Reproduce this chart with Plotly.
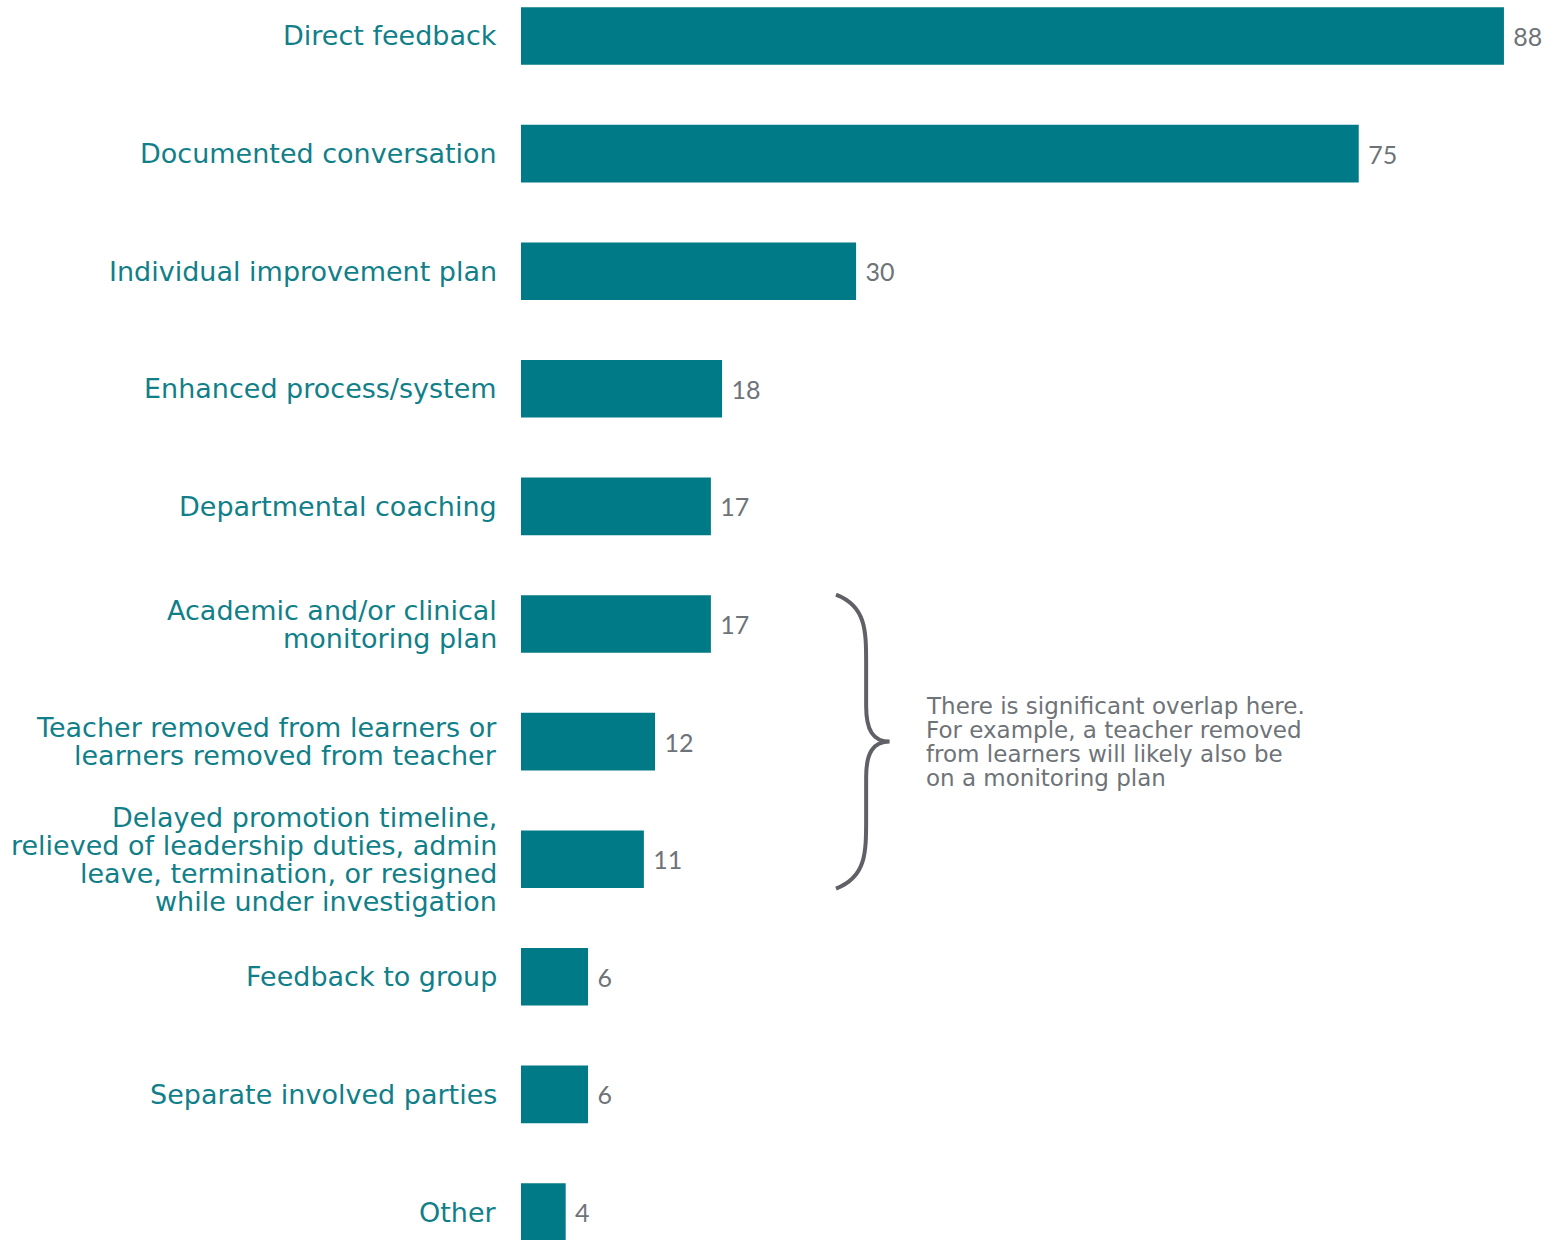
import plotly.graph_objects as go

# Actions taken, counts per action (label lines split with "\n")
categories = [
    "Direct feedback",
    "Documented conversation",
    "Individual improvement plan",
    "Enhanced process/system",
    "Departmental coaching",
    "Academic and/or clinical\nmonitoring plan",
    "Teacher removed from learners or\nlearners removed from teacher",
    "Delayed promotion timeline,\nrelieved of leadership duties, admin\nleave, termination, or resigned\nwhile under investigation",
    "Feedback to group",
    "Separate involved parties",
    "Other",
]
counts = [88, 75, 30, 18, 17, 17, 12, 11, 6, 6, 4]

note_lines = [
    "There is significant overlap here.",
    "For example, a teacher removed",
    "from learners will likely also be",
    "on a monitoring plan",
]

TEAL = "#007A87"
LABEL_TEAL = "#117F89"
GRAY = "#6E7378"
LABEL_FONT = "DejaVu Sans"

positions = list(range(len(categories)))

fig = go.Figure(
    go.Bar(
        x=counts,
        y=positions,
        orientation="h",
        marker=dict(color=TEAL, line=dict(width=0)),
        width=0.49,
        text=[f"{v}" for v in counts],
        texttemplate=" %{text}",
        textposition="outside",
        textfont=dict(family="Lato", size=25, color=GRAY),
        cliponaxis=False,
    )
)

# Category labels, one annotation per line for tight line spacing
LABEL_LH = 28
for pos, label in zip(positions, categories):
    lines = label.split("\n")
    n = len(lines)
    for i, line in enumerate(lines):
        fig.add_annotation(
            x=0, y=pos, xref="x", yref="y",
            text=line, showarrow=False,
            xanchor="right", yanchor="middle", align="right",
            xshift=-22, yshift=-(i - (n - 1) / 2) * LABEL_LH,
            font=dict(family=LABEL_FONT, size=27, color=LABEL_TEAL),
        )

# Curly brace grouping the three overlapping categories (data coordinates)
x0, xm, xt = 28.2, 30.9, 33.0
brace = (
    f"M {x0},4.75 C {xm},4.85 {xm},5.05 {xm},5.35 "
    f"L {xm},5.7 C {xm},5.9 {xm + 0.6},6.0 {xt},6.0 "
    f"C {xm + 0.6},6.0 {xm},6.1 {xm},6.3 "
    f"L {xm},6.65 C {xm},6.95 {xm},7.15 {x0},7.25"
)
fig.add_shape(type="path", path=brace, xref="x", yref="y",
              line=dict(color="#606166", width=4))

NOTE_LH = 24
for i, line in enumerate(note_lines):
    fig.add_annotation(
        x=36.1, y=6.0, xref="x", yref="y",
        text=line, showarrow=False,
        xanchor="left", yanchor="middle", align="left",
        yshift=-(i - (len(note_lines) - 1) / 2) * NOTE_LH,
        font=dict(family=LABEL_FONT, size=23, color=GRAY),
    )

fig.update_layout(
    width=1557, height=1240,
    margin=dict(l=521, r=0, t=0, b=0),
    paper_bgcolor="white", plot_bgcolor="white",
    showlegend=False,
)
fig.update_xaxes(range=[0, 92.75], visible=False, showgrid=False, zeroline=False)
fig.update_yaxes(range=[10.238, -0.306], visible=False,
                 showgrid=False, zeroline=False)

fig.write_html("out.html")
